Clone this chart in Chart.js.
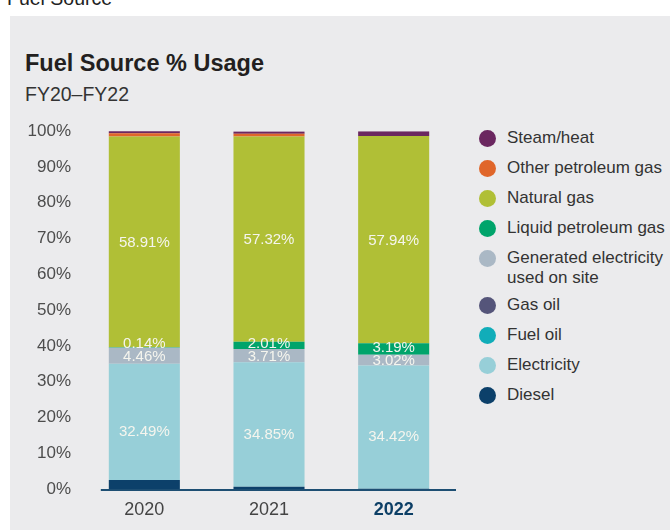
<!DOCTYPE html>
<html>
<head>
<meta charset="utf-8">
<script src="https://cdn.jsdelivr.net/npm/chart.js@4"></script>
<style>
  body { margin: 0; width: 670px; height: 530px; overflow: hidden; background: #fff;
         font-family: "Liberation Sans", Arial, Helvetica, sans-serif; position: relative; }
  .heading { position: absolute; left: 7px; top: -11px; font-size: 19.5px; line-height: 19.5px; color: #222; }
  .panel { position: absolute; left: 10px; top: 16px; width: 660px; height: 514px; background: #ebebed; }
  .title { position: absolute; left: 25px; top: 52px; font-size: 23.5px; line-height: 23.5px; font-weight: bold; color: #231f20; }
  .subtitle { position: absolute; left: 25px; top: 85px; font-size: 19.5px; line-height: 19.5px; color: #333; }
  .chart-box { position: absolute; left: 0; top: 110px; width: 470px; height: 419px; }
  #legend { position: absolute; left: 479px; top: 128px; margin: 0; padding: 0; list-style: none; }
  #legend li { display: flex; align-items: flex-start; font-size: 17px; line-height: 20px; color: #333;
               margin-bottom: 10px; white-space: pre-line; }
  #legend li.two { margin-bottom: 7px; }
  #legend .dot { width: 17px; height: 17px; border-radius: 50%; margin: 1.5px 11px 0 0; flex: none; }
</style>
</head>
<body>
<div class="heading">Fuel Source</div>
<div class="panel"></div>
<div class="title">Fuel Source % Usage</div>
<div class="subtitle">FY20–FY22</div>
<div class="chart-box"><canvas id="fuelChart"></canvas></div>
<ul id="legend"></ul>
<script>
// Fuel source shares, stacked from the bottom of each bar
const years = ['2020', '2021', '2022'];

const diesel = [2.5, 0.6, 0.1];
const electricity = [32.49, 34.85, 34.42];
const fuelOil = [0, 0, 0];
const gasOil = [0, 0, 0];
const generated = [4.46, 3.71, 3.02];
const lpg = [0.14, 2.01, 3.19];
const naturalGas = [58.91, 57.32, 57.94];
const otherPetroleum = [0.9, 0.8, 0];
const steamHeat = [0.9, 0.6, 1.3];

const yTicks = [0, 10, 20, 30, 40, 50, 60, 70, 80, 90, 100];

const series = [
    { label: 'Diesel', data: diesel, color: '#0c406a' },
    { label: 'Electricity', data: electricity, color: '#97cfd8', showValues: true, labelDy: 9 },
    { label: 'Fuel oil', data: fuelOil, color: '#11adb9' },
    { label: 'Gas oil', data: gasOil, color: '#55557a' },
    { label: 'Generated electricity\nused on site', data: generated, color: '#aab8c5', showValues: true },
    { label: 'Liquid petroleum gas', data: lpg, color: '#00a46b', showValues: true },
    { label: 'Natural gas', data: naturalGas, color: '#b0bf36', showValues: true },
    { label: 'Other petroleum gas', data: otherPetroleum, color: '#e0662a' },
    { label: 'Steam/heat', data: steamHeat, color: '#6b2760' }
];

// white % labels inside the bigger segments, nudged up when they would overlap
const segmentLabels = {
    id: 'segmentLabels',
    afterDatasetsDraw(chart) {
        const c = chart.ctx;
        c.save();
        c.font = '15px "Liberation Sans", Arial, sans-serif';
        c.fillStyle = '#f5f5ee';
        c.textAlign = 'center';
        c.textBaseline = 'middle';
        const lastY = {};
        chart.data.datasets.forEach((ds, i) => {
            if (!ds.showValues) return;
            chart.getDatasetMeta(i).data.forEach((bar, j) => {
                let y = (bar.y + bar.base) / 2 + 1 + (ds.labelDy || 0);
                if (lastY[j] !== undefined && lastY[j] - y < 13) y = lastY[j] - 13;
                lastY[j] = y;
                c.fillText(ds.data[j].toFixed(2) + '%', bar.x, y);
            });
        });
        c.restore();
    }
};

// baseline drawn from just left of the first bar to the right edge of the plot
const baseLine = {
    id: 'baseLine',
    afterDatasetsDraw(chart) {
        const first = chart.getDatasetMeta(0).data[0];
        const { right, bottom } = chart.chartArea;
        const c = chart.ctx;
        c.save();
        c.strokeStyle = '#1d4e73';
        c.lineWidth = 2;
        c.beginPath();
        c.moveTo(first.x - first.width / 2 - 8, bottom + 1);
        c.lineTo(right, bottom + 1);
        c.stroke();
        c.restore();
    }
};

const chart = new Chart(document.getElementById('fuelChart'), {
    type: 'bar',
    data: {
        labels: years,
        datasets: series.map(s => ({
            label: s.label,
            data: s.data,
            backgroundColor: s.color,
            showValues: s.showValues || false,
            labelDy: s.labelDy || 0,
            barPercentage: 1,
            categoryPercentage: 0.57,
            borderWidth: 0
        }))
    },
    options: {
        responsive: true,
        maintainAspectRatio: false,
        animation: false,
        layout: { padding: { top: 19, right: 14, left: 0, bottom: 0 } },
        plugins: {
            legend: { display: false },
            tooltip: { enabled: false }
        },
        scales: {
            x: {
                stacked: true,
                grid: { display: false, drawTicks: false },
                border: { display: false },
                afterFit: s => { s.height = 40; },
                ticks: {
                    padding: 10,
                    color: ctx => ctx.index === 2 ? '#0d3f66' : '#444',
                    font: ctx => ({ size: 18, weight: ctx.index === 2 ? 'bold' : 'normal',
                                    family: '"Liberation Sans", Arial, sans-serif' })
                }
            },
            y: {
                stacked: true,
                min: 0,
                max: 100,
                afterFit: s => { s.width = 82; },
                afterBuildTicks: s => { s.ticks = yTicks.map(v => ({ value: v })); },
                grid: { display: false, drawTicks: false },
                border: { display: false },
                ticks: {
                    padding: 11,
                    color: '#4d4d4d',
                    font: { size: 17, family: '"Liberation Sans", Arial, sans-serif' },
                    callback: v => v + '%'
                }
            }
        }
    },
    plugins: [segmentLabels, baseLine]
});

// HTML legend, top to bottom is the reverse of the stack order
const legend = document.getElementById('legend');
chart.data.datasets.slice().reverse().forEach(ds => {
    const li = document.createElement('li');
    if (ds.label.includes('\n')) li.className = 'two';
    const dot = document.createElement('span');
    dot.className = 'dot';
    dot.style.background = ds.backgroundColor;
    const txt = document.createElement('span');
    txt.textContent = ds.label;
    li.appendChild(dot);
    li.appendChild(txt);
    legend.appendChild(li);
});
</script>
</body>
</html>
